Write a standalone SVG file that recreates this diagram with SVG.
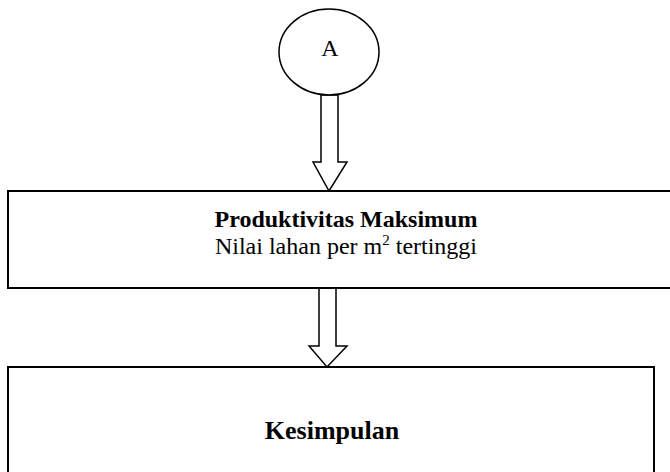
<svg xmlns="http://www.w3.org/2000/svg" width="670" height="472" viewBox="0 0 670 472">
<style>
.n{fill:#fff;stroke:#000;stroke-width:2}
.a{fill:#fff;stroke:#000;stroke-width:1.5;stroke-linejoin:miter}
.t{font-family:"Liberation Serif","Times New Roman",serif;font-size:24px;fill:#000;text-anchor:middle}
.b{font-weight:bold}
.k{font-size:26px}
</style>
<rect width="670" height="472" fill="#fff"/>
<g id="connectors">
<polygon class="a" points="321,95 338,95 338,162 347,162 329,191 313,162 321,162"/>
<polygon class="a" points="319,288 336,288 336,346 347,346 327,367 309,346 319,346"/>
</g>
<g id="nodeA">
<ellipse class="n" cx="329" cy="52" rx="50" ry="43" style="stroke-width:1.5"/>
<text class="t" x="330" y="56">A</text>
</g>
<g id="node1">
<rect class="n" x="8" y="191" width="670" height="97"/>
<text class="t b" x="346" y="227">Produktivitas Maksimum</text>
<text class="t" x="346" y="254">Nilai lahan per m<tspan dy="-9" font-size="15">2</tspan><tspan dy="9"> tertinggi</tspan></text>
</g>
<g id="node2">
<rect class="n" x="8" y="367" width="646" height="110"/>
<text class="t b k" x="332" y="439">Kesimpulan</text>
</g>
</svg>
